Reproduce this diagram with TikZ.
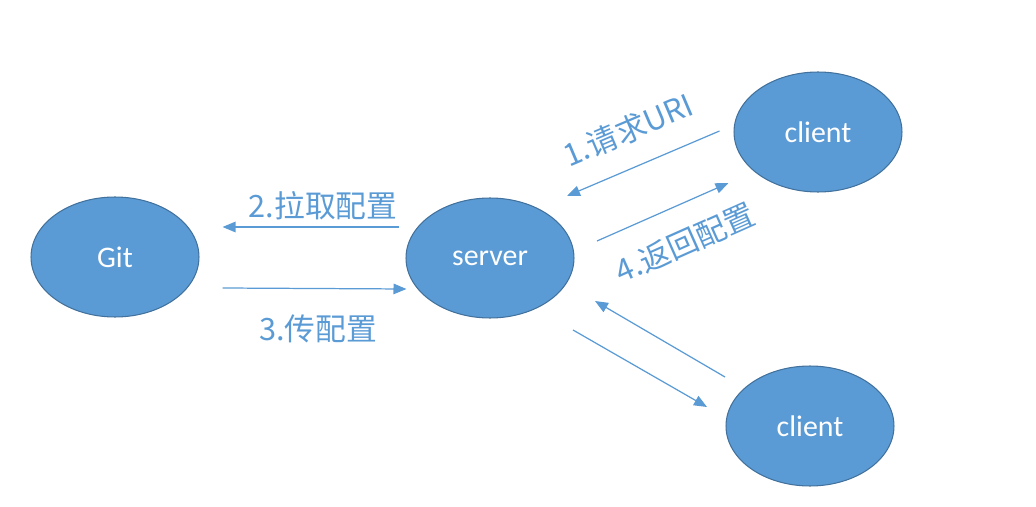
\documentclass[tikz,border=0pt]{standalone}
\usepackage{fontspec}
\setmainfont{Carlito}
\newfontfamily\cjk{Noto Sans CJK SC}
\usetikzlibrary{shapes.geometric,arrows.meta}
\definecolor{nodeblue}{HTML}{5B9BD5}
\definecolor{edgeblue}{HTML}{41719C}
\tikzset{
	party/.style={ellipse, draw=edgeblue, line width=0.6pt, fill=nodeblue, text=white,
		minimum width=3.36cm, minimum height=2.4cm, inner sep=0pt,
		font=\fontsize{17}{20}\selectfont},
	flow/.style={draw=nodeblue, line width=0.7pt, -{Triangle[length=2.6mm,width=2.1mm]}},
	tag/.style={text=nodeblue, inner sep=0pt, font=\cjk\fontsize{17.5}{20}\selectfont}
}

\begin{document}
\begin{tikzpicture}[x=0.02cm, y=-0.02cm]
		%%%%% START %%%%%
		\useasboundingbox (0, 0) rectangle (1036, 507);
		
		\node[party] (git) at (115, 257) {Git};
		\node[party] (server) at (490, 258) {server};
		\node[party] (clienta) at (818, 132) {client};
		\node[party] (clientb) at (810, 426) {client};
		
		\draw[flow] ([shift={(-6,-31)}]server.west) -- ([shift={(23,-30)}]git.east);
		\draw[flow] ([shift={(23,31)}]git.east) -- ([shift={(1,31)}]server.west);
		
		\draw[flow] ([shift={(-14,-1)}]clienta.west) -- ([shift={(77,-62)}]server.center);
		\draw[flow] ([shift={(107,-17)}]server.center) -- ([shift={(-5,51)}]clienta.west);
		
		\draw[flow] ([shift={(-85,-49)}]clientb.center) -- ([shift={(105,43)}]server.center);
		\draw[flow] ([shift={(83,72)}]server.center) -- ([shift={(-103,-19)}]clientb.center);
		
		\node[tag] (pull) at (323, 206) {2.拉取配置};
		\node[tag] (push) at (318, 329) {3.传配置};
		\node[tag, rotate=23] (ask) at (628, 130) {1.请求URI};
		\node[tag, rotate=24] (back) at (685, 243) {4.返回配置};
		%%%%% END %%%%%
	\end{tikzpicture}
\end{document}
